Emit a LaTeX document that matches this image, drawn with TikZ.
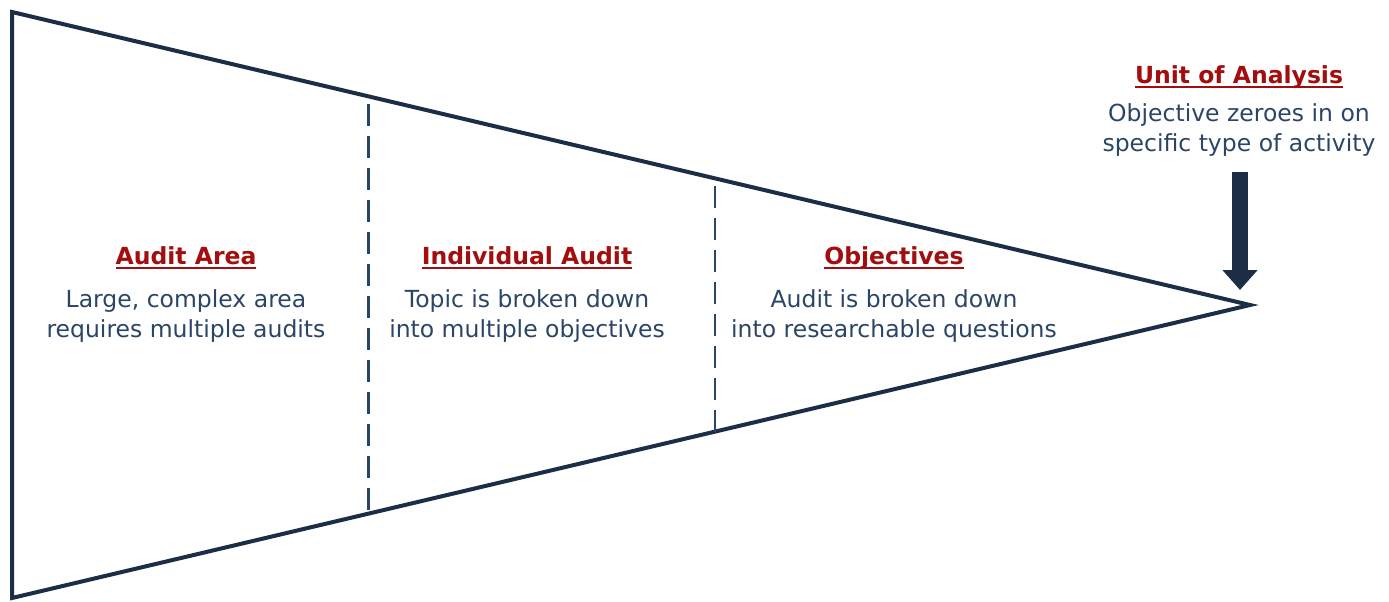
\documentclass[tikz,border=0pt]{standalone}
\usepackage{fontspec}
\setmainfont{DejaVu Sans}
\usepackage{tikz}
\usetikzlibrary{calc,positioning,arrows.meta}

\definecolor{funnelline}{HTML}{1B2E45}
\definecolor{bodytext}{HTML}{2B4566}
\definecolor{titlered}{HTML}{A30D0D}

\newcommand{\titleul}[1]{\setbox0\hbox{#1}\rlap{\color{titlered}\rule[-5pt]{\wd0}{2pt}}\box0}

\tikzset{
    title/.style={text=titlered, font=\fontsize{23.5}{30}\selectfont\bfseries, inner sep=0pt},
    body/.style={text=bodytext, font=\fontsize{23.5}{30}\selectfont, align=center, inner sep=0pt},
    divider/.style={draw=bodytext, line width=2.4pt, dash pattern=on 22pt off 10pt},
}

\begin{document}
\begin{tikzpicture}[x=1pt, y=-1pt]
    \useasboundingbox (0,0) rectangle (1389,602);

    \coordinate (tl) at (12,12);
    \coordinate (bl) at (12,598);
    \coordinate (tip) at (1250,305);

    \draw[funnelline, line width=4pt, line join=miter] (tl) -- (tip) -- (bl) -- cycle;

    % dividers
    \draw[divider] ($(tl)!0.288!(tip)+(0,8)$) -- ($(bl)!0.288!(tip)+(0,2)$);
    \draw[divider] ($(tl)!0.568!(tip)+(0,8)$) -- ($(bl)!0.568!(tip)+(0,4)$);

    % sections
    \node[title] (areatitle) at (186,258) {\titleul{Audit Area}};
    \node[body, below=20pt of areatitle] (areabody) {Large, complex area\\requires multiple audits};

    \node[title] (audittitle) at (527,258) {\titleul{Individual Audit}};
    \node[body, below=20pt of audittitle] (auditbody) {Topic is broken down\\into multiple objectives};

    \node[title] (objtitle) at (894,258) {\titleul{Objectives}};
    \node[body, below=20pt of objtitle] (objbody) {Audit is broken down\\into researchable questions};

    \node[title] (unittitle) at (1239,77) {\titleul{Unit of Analysis}};
    \node[body, below=15pt of unittitle] (unitbody) {Objective zeroes in on\\specific type of activity};

    % pointer
    \coordinate (arrowtop) at (1240,172);
    \draw[funnelline, line width=16pt, -{Triangle[width=34pt, length=20pt]}]
        (arrowtop) -- ($(tip)+(-10,-15)$);

\end{tikzpicture}
\end{document}
